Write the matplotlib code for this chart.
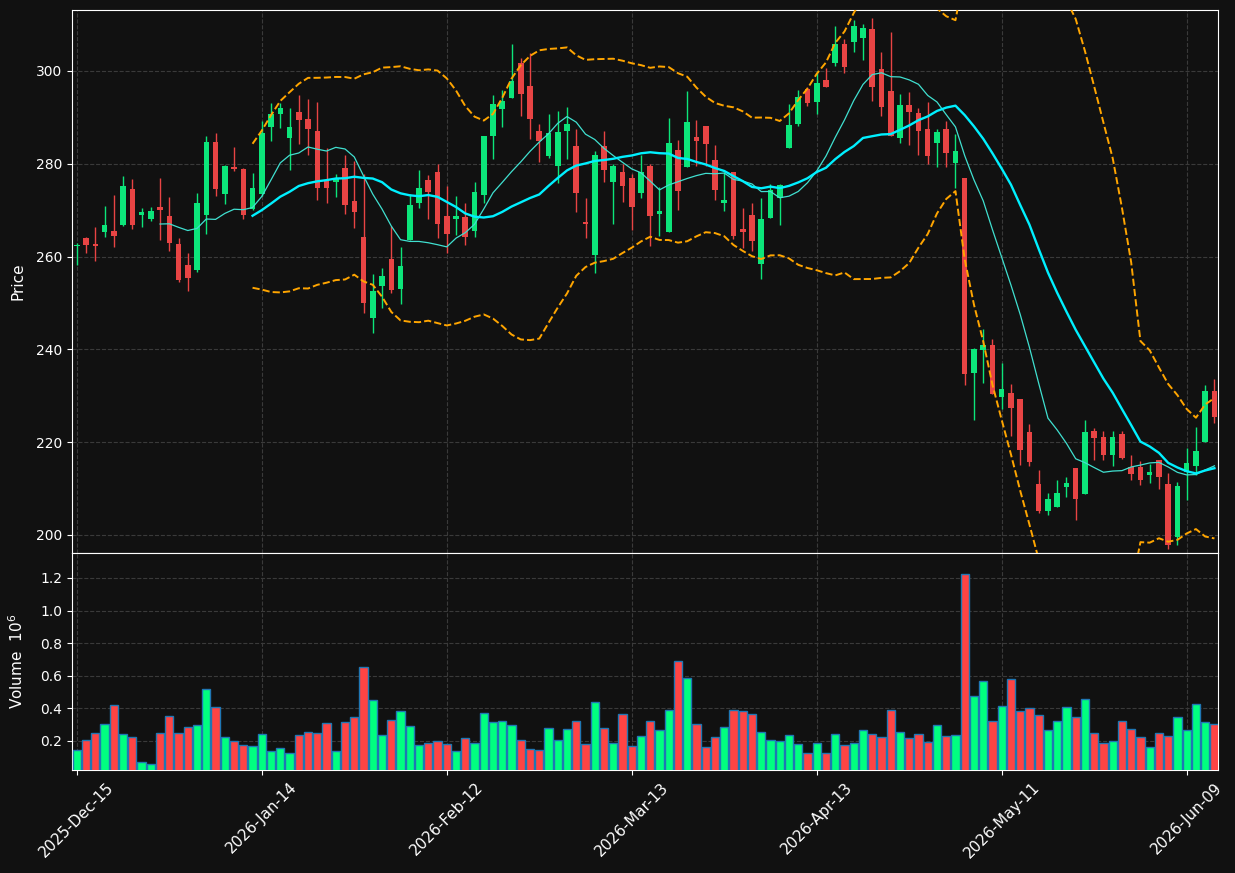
import numpy as np
import pandas as pd
import matplotlib
matplotlib.use("Agg")
import matplotlib.pyplot as plt

# ---------------- data ----------------
opens = [262.2, 264.1, 262.8, 265.3, 265.6, 266.8, 274.6, 268.9, 268.2, 270.6,
         268.65, 262.8, 258.1, 257.2, 268.9, 284.6, 273.5, 279.4, 278.8, 270.2,
         273.5, 288.0, 290.8, 285.5, 291.2, 289.6, 287.1, 276.4, 276.1, 279.1,
         271.9, 264.2, 246.8, 253.7, 259.5, 253.1, 263.5, 271.6, 276.4, 278.2,
         268.75, 268.0, 268.5, 265.5, 273.3, 286.0, 291.9, 294.25, 301.7, 296.8,
         287.1, 281.7, 279.6, 287.1, 283.8, 267.5, 260.3, 283.8, 276.1, 278.2,
         276.9, 273.7, 279.5, 269.25, 265.4, 283.0, 279.2, 285.8, 288.1, 280.8,
         271.6, 278.2, 265.9, 269.0, 258.5, 268.4, 272.7, 283.5, 288.65, 296.05,
         293.4, 298.1, 301.8, 305.75, 306.3, 307.2, 309.0, 300.4, 295.7, 285.6,
         292.6, 290.9, 287.6, 284.55, 287.6, 280.25, 276.9, 234.8, 239.8, 240.9,
         229.8, 230.5, 229.2, 222.1, 211.05, 205.1, 206.0, 210.3, 214.4, 208.9,
         222.5, 221.0, 217.2, 221.8, 214.6, 214.6, 212.85, 216.1, 211.05, 199.6,
         213.6, 214.85, 220.0, 230.95]
highs = [263.0, 264.3, 266.4, 270.9, 273.3, 277.4, 276.8, 270.5, 270.7, 277.0,
         272.9, 264.05, 260.8, 273.75, 285.9, 286.7, 279.8, 283.7, 279.0, 278.1,
         289.3, 293.2, 293.2, 292.0, 294.75, 293.9, 293.3, 283.5, 277.7, 281.8,
         280.6, 277.7, 256.3, 257.5, 266.6, 262.0, 273.4, 278.6, 277.6, 279.9,
         275.2, 273.05, 271.6, 276.1, 286.0, 294.75, 295.8, 305.9, 302.9, 303.95,
         288.65, 290.7, 291.4, 292.2, 287.6, 272.55, 282.75, 287.1, 279.9, 279.9,
         277.7, 282.0, 279.9, 274.9, 289.8, 285.1, 295.7, 289.4, 288.1, 284.0,
         278.2, 278.2, 270.4, 271.6, 272.55, 275.6, 275.7, 292.8, 295.8, 296.55,
         300.0, 300.6, 309.7, 307.0, 311.1, 310.2, 311.5, 304.2, 308.5, 295.1,
         295.4, 292.1, 293.4, 287.4, 289.2, 286.35, 276.9, 240.35, 244.3, 242.3,
         237.1, 232.5, 229.2, 224.0, 213.9, 209.1, 211.9, 212.5, 214.4, 224.8,
         223.1, 222.5, 222.5, 222.5, 217.3, 215.9, 215.2, 216.1, 213.4, 211.3,
         218.8, 223.3, 232.4, 233.5]
lows = [258.2, 260.75, 259.1, 264.3, 262.0, 266.6, 266.0, 266.35, 267.6, 263.6,
        261.25, 254.5, 252.6, 256.65, 264.9, 273.0, 271.3, 278.4, 268.1, 270.0,
        273.0, 284.9, 287.8, 278.6, 284.3, 281.9, 272.3, 271.5, 272.9, 269.25,
        266.1, 247.9, 243.5, 248.9, 252.1, 249.7, 263.5, 270.4, 268.0, 263.9,
        260.8, 264.65, 262.6, 264.3, 271.6, 281.0, 288.0, 294.25, 290.3, 285.3,
        280.4, 281.3, 275.8, 281.1, 269.5, 263.9, 256.4, 276.15, 267.1, 271.8,
        265.7, 272.7, 262.3, 264.4, 265.3, 270.0, 279.2, 279.5, 279.5, 272.3,
        269.8, 263.7, 261.8, 261.1, 255.1, 268.4, 266.8, 283.5, 288.1, 292.5,
        290.7, 296.6, 301.1, 299.6, 304.2, 302.3, 293.5, 290.2, 286.0, 284.55,
        284.0, 281.8, 279.9, 279.4, 279.2, 274.85, 232.3, 224.7, 232.8, 230.3,
        227.1, 221.3, 215.0, 214.8, 204.7, 204.2, 206.0, 208.2, 203.3, 208.9,
        216.2, 216.1, 214.85, 216.3, 211.8, 210.7, 211.2, 210.0, 197.0, 197.9,
        207.6, 213.0, 220.0, 224.1]
closes = [262.4, 262.5, 262.3, 266.85, 264.4, 275.3, 266.8, 269.7, 269.9, 270.0,
          262.9, 254.9, 255.4, 271.45, 284.6, 274.5, 279.6, 278.8, 268.9, 274.7,
          286.7, 290.7, 292.0, 287.9, 289.5, 287.4, 274.85, 274.85, 276.8, 271.2,
          269.5, 249.9, 252.6, 255.8, 252.9, 258.0, 271.1, 274.8, 274.0, 267.0,
          264.8, 268.75, 264.3, 273.9, 286.0, 292.9, 293.5, 297.8, 295.1, 289.7,
          284.9, 286.6, 286.85, 288.5, 273.8, 267.1, 282.0, 278.7, 279.5, 275.2,
          270.7, 278.2, 268.75, 269.8, 284.4, 274.1, 289.0, 284.9, 284.3, 274.35,
          272.2, 264.4, 265.4, 263.4, 268.0, 274.35, 275.4, 288.4, 294.4, 293.2,
          297.5, 296.6, 305.75, 300.9, 309.7, 309.2, 296.6, 292.3, 286.0, 292.6,
          291.2, 287.1, 281.7, 286.85, 282.4, 282.75, 234.6, 240.0, 240.95, 230.45,
          231.5, 227.3, 218.4, 215.7, 205.1, 207.7, 209.0, 211.25, 207.7, 222.1,
          220.9, 217.2, 221.0, 216.6, 213.05, 211.8, 213.55, 212.5, 197.75, 210.5,
          215.4, 218.0, 230.95, 225.4]
volumes_m = [0.143, 0.204, 0.249, 0.304, 0.420, 0.243, 0.224, 0.071, 0.059, 0.249,
             0.353, 0.249, 0.286, 0.298, 0.518, 0.408, 0.224, 0.200, 0.176, 0.169,
             0.243, 0.139, 0.157, 0.127, 0.237, 0.255, 0.249, 0.310, 0.139, 0.316,
             0.347, 0.653, 0.451, 0.237, 0.329, 0.384, 0.292, 0.176, 0.188, 0.200,
             0.182, 0.139, 0.218, 0.188, 0.371, 0.316, 0.322, 0.298, 0.206, 0.151,
             0.145, 0.280, 0.206, 0.273, 0.322, 0.182, 0.439, 0.280, 0.188, 0.365,
             0.169, 0.231, 0.322, 0.267, 0.392, 0.690, 0.586, 0.304, 0.163, 0.224,
             0.286, 0.392, 0.384, 0.365, 0.255, 0.206, 0.200, 0.237, 0.182, 0.127,
             0.188, 0.127, 0.243, 0.176, 0.188, 0.267, 0.243, 0.224, 0.392, 0.255,
             0.218, 0.243, 0.194, 0.298, 0.231, 0.237, 1.222, 0.476, 0.567, 0.322,
             0.414, 0.580, 0.384, 0.402, 0.359, 0.267, 0.322, 0.408, 0.347, 0.457,
             0.249, 0.188, 0.200, 0.322, 0.273, 0.224, 0.163, 0.249, 0.231, 0.347,
             0.267, 0.427, 0.316, 0.304]
tick_positions = [0, 20, 40, 60, 80, 100, 120]
tick_labels = ["2025-Dec-15", "2026-Jan-14", "2026-Feb-12", "2026-Mar-13",
               "2026-Apr-13", "2026-May-11", "2026-Jun-09"]

# ---------------- style ----------------
BG = "#111111"
UP_C, DN_C = "#0ce57a", "#e84444"
VUP_C, VDN_C = "#00ff80", "#ff4444"
GRID = dict(color="#3a3a3a", linestyle="--", linewidth=0.8)

o = np.array(opens); h = np.array(highs); l = np.array(lows); c = np.array(closes)
v = np.array(volumes_m)
x = np.arange(len(c))
up = c >= o

cs = pd.Series(c)
ma10 = cs.rolling(10).mean()
ma20 = cs.rolling(20).mean()
sd20 = cs.rolling(20).std()
bb_up = ma20 + 2 * sd20
bb_lo = ma20 - 2 * sd20

fig = plt.figure(figsize=(12.35, 8.73), dpi=100, facecolor=BG)
ax = fig.add_axes([0.0583, 0.36655, 0.9279, 0.622])
axv = fig.add_axes([0.0583, 0.11798, 0.9279, 0.24857], sharex=ax)

for a in (ax, axv):
    a.set_facecolor(BG)
    for s in a.spines.values():
        s.set_color("white")
    a.tick_params(colors="white", labelsize=10)
    a.grid(True, **GRID)
    a.set_axisbelow(True)

# candles
cols = np.where(up, UP_C, DN_C)
ax.vlines(x, l, h, colors=cols, linewidth=1.0, zorder=2)
body_lo = np.minimum(o, c)
body_h = np.maximum(np.abs(c - o), 0.25)
ax.bar(x, body_h, bottom=body_lo, width=0.6, color=cols, linewidth=0, zorder=3)

# moving averages and bands
ax.plot(x, ma10, color="#40e0d0", linewidth=0.9, zorder=4)
ax.plot(x, ma20, color="#00f0ff", linewidth=1.7, zorder=4)
ax.plot(x, bb_up, color="#ffa500", linewidth=1.4, linestyle="--", zorder=4)
ax.plot(x, bb_lo, color="#ffa500", linewidth=1.4, linestyle="--", zorder=4)

ax.set_ylim(196.1, 313.15)
ax.set_yticks([200, 220, 240, 260, 280, 300])
ax.set_xlim(-0.52, 123.38)
ax.set_ylabel("Price", color="white", fontsize=11)
plt.setp(ax.get_xticklabels(), visible=False)
ax.tick_params(axis="x", length=0)

# volume
vcols = np.where(up, VUP_C, VDN_C)
axv.bar(x, v, width=0.88, color=vcols, edgecolor="#1f77b4", linewidth=1.0, zorder=3)
axv.set_ylim(0.022, 1.353)
axv.set_yticks([0.2, 0.4, 0.6, 0.8, 1.0, 1.2])
axv.set_yticklabels(["0.2", "0.4", "0.6", "0.8", "1.0", "1.2"])
axv.set_ylabel("Volume  $10^{6}$", color="white", fontsize=11)
axv.set_xticks(tick_positions)
axv.set_xticklabels(tick_labels, rotation=45, fontsize=11)

ax.yaxis.set_label_coords(-0.041, 0.5)
axv.yaxis.set_label_coords(-0.040, 0.5)

fig.savefig("out.png", dpi=100, facecolor=BG)
